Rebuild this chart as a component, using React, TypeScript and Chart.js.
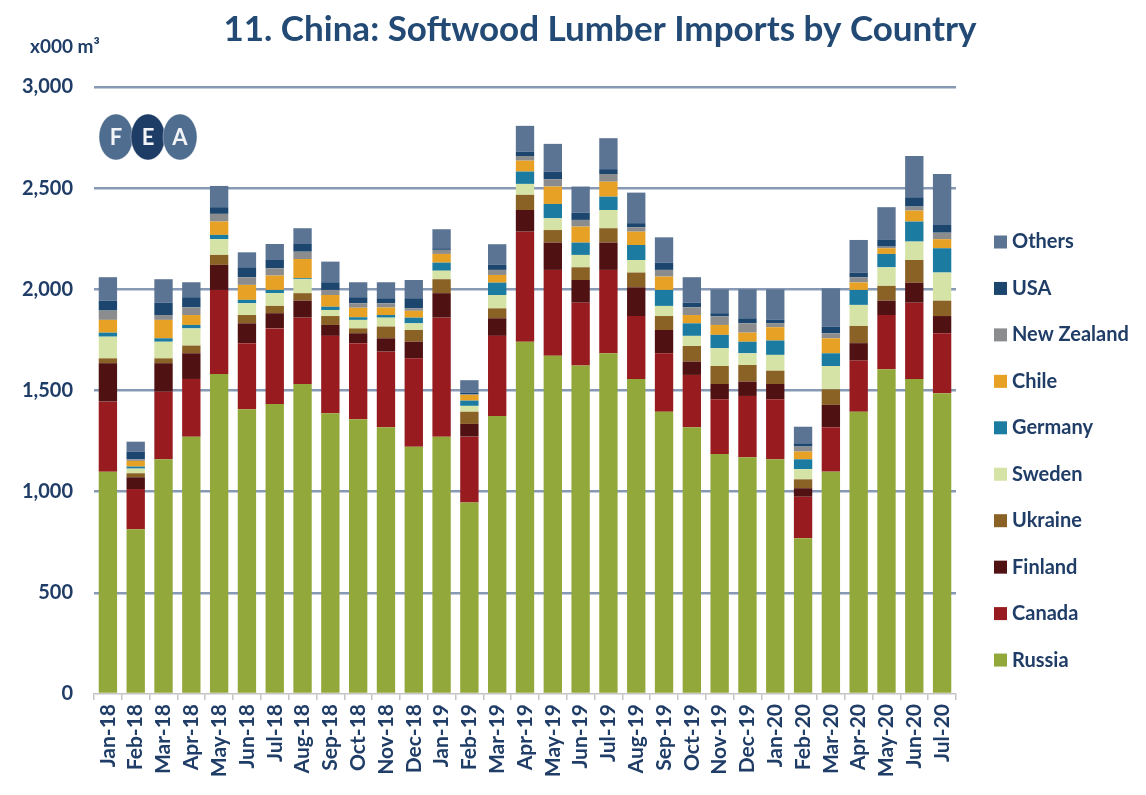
import React, { useEffect, useRef } from "react";
import { Chart, registerables } from "chart.js";

Chart.register(...registerables);

const months = [
  "Jan-18", "Feb-18", "Mar-18", "Apr-18", "May-18", "Jun-18", "Jul-18", "Aug-18",
  "Sep-18", "Oct-18", "Nov-18", "Dec-18", "Jan-19", "Feb-19", "Mar-19", "Apr-19",
  "May-19", "Jun-19", "Jul-19", "Aug-19", "Sep-19", "Oct-19", "Nov-19", "Dec-19",
  "Jan-20", "Feb-20", "Mar-20", "Apr-20", "May-20", "Jun-20", "Jul-20",
];

const russia = [1099, 814, 1160, 1272, 1582, 1407, 1433, 1532, 1387, 1358, 1318, 1222, 1272, 946, 1374, 1741, 1672, 1623, 1684, 1557, 1395, 1318, 1186, 1170, 1160, 770, 1099, 1395, 1605, 1557, 1486];
const canada = [346, 199, 334, 285, 415, 327, 374, 328, 383, 376, 374, 437, 588, 326, 396, 544, 424, 311, 412, 311, 289, 259, 271, 303, 297, 205, 219, 253, 268, 377, 297];
const finland = [190, 58, 141, 127, 124, 98, 75, 84, 54, 49, 66, 82, 121, 63, 87, 107, 135, 112, 135, 142, 115, 66, 75, 71, 75, 42, 111, 86, 71, 99, 85];
const ukraine = [24, 20, 24, 38, 49, 41, 36, 37, 44, 24, 58, 58, 69, 60, 49, 75, 62, 63, 71, 73, 69, 77, 89, 82, 66, 44, 77, 85, 73, 112, 76];
const sweden = [107, 23, 82, 85, 78, 58, 63, 69, 30, 42, 44, 33, 42, 29, 66, 54, 58, 61, 90, 62, 50, 50, 88, 58, 78, 50, 115, 104, 92, 91, 139];
const germany = [20, 10, 17, 17, 21, 17, 16, 5, 16, 13, 13, 28, 40, 26, 61, 61, 71, 61, 66, 74, 79, 62, 66, 57, 71, 49, 63, 74, 66, 99, 120];
const chile = [63, 28, 91, 49, 66, 74, 71, 95, 58, 47, 37, 34, 43, 28, 38, 54, 86, 79, 74, 66, 66, 41, 49, 45, 66, 38, 74, 37, 28, 54, 45];
const newZealand = [46, 8, 24, 38, 38, 38, 36, 36, 25, 22, 21, 12, 20, 4, 25, 23, 36, 33, 38, 22, 33, 38, 42, 46, 20, 25, 25, 26, 8, 20, 32];
const usa = [49, 38, 61, 50, 33, 49, 41, 38, 38, 30, 25, 50, 8, 8, 25, 21, 38, 36, 24, 20, 36, 23, 16, 25, 16, 16, 33, 23, 33, 46, 38];
const others = [116, 49, 116, 74, 105, 74, 79, 78, 102, 74, 79, 90, 94, 61, 102, 128, 137, 129, 153, 151, 125, 126, 118, 143, 151, 82, 189, 161, 162, 204, 252];

const seriesNames = ["Russia", "Canada", "Finland", "Ukraine", "Sweden", "Germany", "Chile", "New Zealand", "USA", "Others"];
const seriesValues = [russia, canada, finland, ukraine, sweden, germany, chile, newZealand, usa, others];
const seriesColors = ["#93a83a", "#971b1f", "#4f1111", "#8b6225", "#d6e3a7", "#1b7ba1", "#e7a125", "#8a8c8e", "#1d466e", "#5b7493"];

const yTicks = [0, 500, 1000, 1500, 2000, 2500, 3000];

const TITLE = "11. China: Softwood Lumber Imports by Country";
const UNIT = "x000 m³";
const TEXT = "#1f3d66";
const FONT = "Lato, 'Open Sans', sans-serif";

const decorPlugin = {
  id: "decor",
  afterDraw(chart: any) {
    const ctx = chart.ctx as CanvasRenderingContext2D;
    ctx.save();
    // title
    ctx.fillStyle = "#234a74";
    ctx.font = `bold 35px ${FONT}`;
    ctx.textAlign = "center";
    ctx.textBaseline = "middle";
    ctx.fillText(TITLE, 600, 30);
    // unit
    ctx.fillStyle = TEXT;
    ctx.font = `bold 19px ${FONT}`;
    ctx.textAlign = "left";
    ctx.fillText(UNIT, 30, 47);

    // logo
    const logo = [
      { cx: 116, col: "#4f6d8f", t: "F" },
      { cx: 148, col: "#1e3d66", t: "E" },
      { cx: 180, col: "#4f6d8f", t: "A" },
    ];
    logo.forEach((l) => {
      ctx.beginPath();
      ctx.ellipse(l.cx, 137, 17, 23, 0, 0, Math.PI * 2);
      ctx.fillStyle = l.col;
      ctx.fill();
      ctx.strokeStyle = "rgba(255,255,255,0.35)";
      ctx.lineWidth = 1;
      ctx.stroke();
    });
    logo.forEach((l) => {
      ctx.fillStyle = "#f2f4f7";
      ctx.font = `bold 22px ${FONT}`;
      ctx.textAlign = "center";
      ctx.textBaseline = "middle";
      ctx.fillText(l.t, l.cx, 138);
    });

    // legend (reverse order, like the stacked bars)
    const items = chart.data.datasets.map((d: any) => ({ label: d.label, color: d.backgroundColor })).reverse();
    ctx.font = `bold 20px ${FONT}`;
    ctx.textAlign = "left";
    ctx.textBaseline = "middle";
    items.forEach((it: any, i: number) => {
      const y = 242 + i * 46.45;
      ctx.fillStyle = it.color;
      ctx.fillRect(994, y - 6.5, 13, 13);
      ctx.fillStyle = TEXT;
      ctx.fillText(it.label, 1012, y);
    });
    ctx.restore();
  },
};

export default function App() {
  const ref = useRef<HTMLCanvasElement>(null);

  useEffect(() => {
    if (!ref.current) return;
    const chart = new Chart(ref.current, {
      type: "bar",
      data: {
        labels: months,
        datasets: seriesNames.map((name, i) => ({
          label: name,
          data: seriesValues[i],
          backgroundColor: seriesColors[i],
          borderWidth: 0,
          categoryPercentage: 1,
          barPercentage: 0.66,
        })),
      },
      options: {
        responsive: false,
        animation: false,
        devicePixelRatio: 1,
        layout: { padding: { top: 87, left: 0, right: 190, bottom: 0 } },
        plugins: {
          legend: { display: false },
          title: { display: false },
          tooltip: { enabled: false },
        },
        scales: {
          x: {
            stacked: true,
            afterFit: (s: any) => {
              s.height = 101;
            },
            grid: {
              offset: true,
              drawOnChartArea: false,
              drawTicks: true,
              tickLength: 6,
              color: "#c4c4c4",
              lineWidth: 1.5,
            },
            border: { display: true, color: "#c4c4c4", width: 1.5 },
            ticks: {
              autoSkip: false,
              minRotation: 90,
              maxRotation: 90,
              padding: 4,
              color: TEXT,
              font: { family: FONT, size: 21, weight: "bold" },
            },
          },
          y: {
            stacked: true,
            min: 0,
            max: 3000,
            afterFit: (s: any) => {
              s.width = 94;
            },
            afterBuildTicks: (s: any) => {
              s.ticks = yTicks.map((v) => ({ value: v }));
            },
            grid: {
              drawTicks: false,
              color: (c: any) => (c.tick && c.tick.value === 0 ? "rgba(0,0,0,0)" : "#8799b4"),
              lineWidth: 2.5,
            },
            border: { display: false },
            ticks: {
              padding: 21,
              color: TEXT,
              font: { family: FONT, size: 20, weight: "bold" },
              callback: (v: any) => Number(v).toLocaleString("en-US"),
            },
          },
        },
      },
      plugins: [decorPlugin],
    });
    return () => chart.destroy();
  }, []);

  return (
    <div style={{ position: "absolute", left: 0, top: 0, width: 1146, height: 795, background: "#fff" }}>
      <canvas ref={ref} width={1146} height={795} style={{ width: 1146, height: 795, display: "block" }} />
    </div>
  );
}
